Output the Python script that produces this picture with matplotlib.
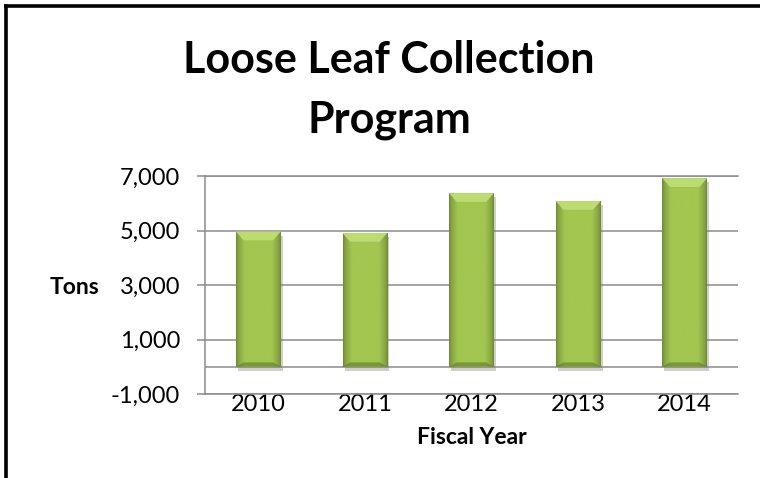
import matplotlib.pyplot as plt
import matplotlib.colors as mcolors
import matplotlib.patheffects as pe
import numpy as np
from matplotlib.lines import Line2D
from matplotlib.patches import Polygon
from matplotlib.ticker import FuncFormatter

years = ['2010', '2011', '2012', '2013', '2014']
tons = [4960, 4910, 6370, 6080, 6920]
y_ticks = [-1000, 1000, 3000, 5000, 7000]
y_min, y_max = -1000, 7000

GRID = '#8c8c8c'
BAR = '#a2c650'

plt.rcParams['font.family'] = ['Lato', 'DejaVu Sans']


def shade_bar(ax, bar):
    # horizontal gradient, darker at the sides, clipped to the bar
    x0, y0 = bar.get_x(), bar.get_y()
    w, h = bar.get_width(), bar.get_height()
    t = np.linspace(0, 1, 80)
    edge = np.minimum(t, 1 - t)
    f = 0.68 + 0.32 * np.clip(edge / 0.2, 0, 1) ** 0.6
    base = np.array(mcolors.to_rgb(BAR))
    row = np.clip(base[None, :] * f[:, None], 0, 1)
    img = np.repeat(row[None, :, :], 2, axis=0)
    im = ax.imshow(img, extent=(x0, x0 + w, y0, y0 + h), aspect='auto',
                   zorder=3, interpolation='bilinear')
    im.set_clip_path(bar)

    # bevel on top and a dark lip at the bottom
    bh = 0.04 * (y_max - y_min)
    d = 0.17 * w
    top = y0 + h
    ax.add_patch(Polygon([(x0, top), (x0 + w, top), (x0 + w - d, top - bh),
                          (x0 + d, top - bh)], closed=True,
                         facecolor='#bcdc72', edgecolor='none', zorder=4))
    ax.add_patch(Polygon([(x0, y0), (x0 + w, y0), (x0 + w - d, y0 + bh * 0.5),
                          (x0 + d, y0 + bh * 0.5)], closed=True,
                         facecolor='#5f7b25', edgecolor='none', alpha=0.6, zorder=4))


def main():
    fig = plt.figure(figsize=(7.6, 4.78), dpi=100)
    ax = fig.add_axes([205 / 760, 1 - 394 / 478, 533 / 760, 218 / 478])

    x = np.arange(len(years))
    bars = ax.bar(x, tons, width=0.42, color=BAR, zorder=3)
    for bar in bars:
        bar.set_path_effects([pe.SimplePatchShadow(offset=(1.5, -3), shadow_rgbFace='#777777',
                                                   alpha=0.35), pe.Normal()])
        shade_bar(ax, bar)

    ax.set_xlim(-0.5, len(years) - 0.5)
    ax.set_ylim(y_min, y_max)
    ax.set_yticks(y_ticks)
    ax.yaxis.set_major_formatter(FuncFormatter(lambda v, p: f'{int(v):,}'))
    ax.set_xticks(x)
    ax.set_xticklabels(years)

    ax.set_axisbelow(True)
    ax.yaxis.grid(True, color=GRID, lw=1.1)
    ax.axhline(0, color=GRID, lw=1.1, zorder=1)
    for side in ['top', 'bottom', 'left']:
        ax.spines[side].set_color(GRID)
        ax.spines[side].set_linewidth(1.1)
    ax.spines['right'].set_visible(False)

    ax.tick_params(axis='y', direction='out', length=6, width=1.1, color=GRID,
                   labelsize=17, pad=12)
    ax.tick_params(axis='x', length=0, labelsize=17, pad=0)

    ax.set_ylabel('Tons', fontsize=16.5, fontweight='bold', rotation=0,
                  ha='right', va='center')
    ax.yaxis.set_label_coords(-0.199, 0.49)
    ax.set_xlabel('Fiscal Year', fontsize=16.5, fontweight='bold', va='center')
    ax.xaxis.set_label_coords(0.5, -0.2)

    fig.text(389 / 760, 1 - 40 / 478, 'Loose Leaf Collection\nProgram', fontsize=31,
             fontweight='bold', ha='center', va='top', linespacing=1.6)

    # black frame on top and left
    lx = 5.5 / 760
    ty = 1 - 5.5 / 478
    fig.add_artist(Line2D([lx, lx], [0, ty], transform=fig.transFigure, color='black',
                          lw=2.6, solid_capstyle='projecting'))
    fig.add_artist(Line2D([lx, 1], [ty, ty], transform=fig.transFigure, color='black',
                          lw=2.6, solid_capstyle='projecting'))

    fig.savefig('out.png', dpi=100)


if __name__ == '__main__':
    main()
